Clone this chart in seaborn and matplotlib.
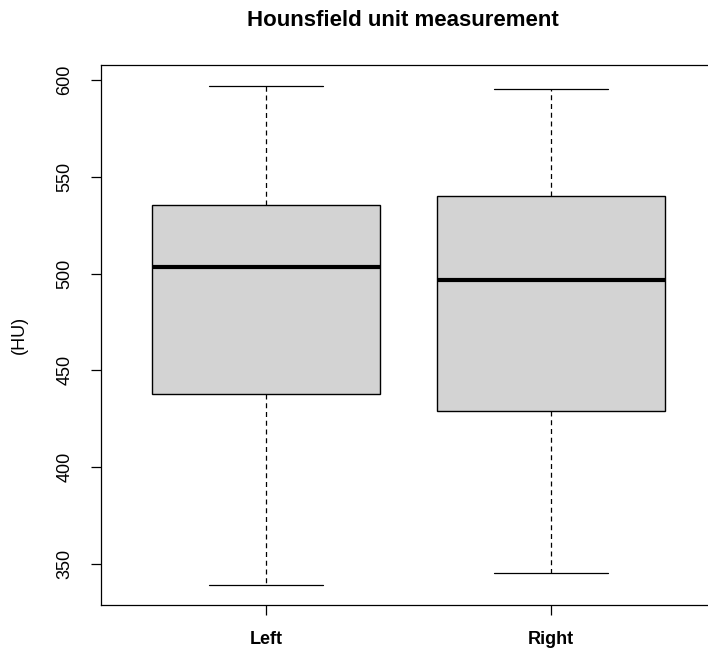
import numpy as np
import pandas as pd
import matplotlib
matplotlib.use("Agg")
import matplotlib.pyplot as plt
import seaborn as sns

# Data (five-number summaries)
sides = ["Left", "Right"]
left_vals = [339.3, 437.7, 503.3, 535.4, 597.1]
right_vals = [345.5, 428.9, 496.5, 540.2, 595.4]
y_ticks = [350, 400, 450, 500, 550, 600]
title = "Hounsfield unit measurement"
ylabel = "(HU)"

sns.set_theme(style="white")
plt.rcParams["font.family"] = ["Liberation Sans", "DejaVu Sans"]
plt.rcParams["text.color"] = "black"
plt.rcParams["xtick.color"] = "black"
plt.rcParams["ytick.color"] = "black"
plt.rcParams["axes.labelcolor"] = "black"

df = pd.DataFrame({
    "side": np.repeat(sides, 5),
    "hu": np.concatenate([left_vals, right_vals]),
})

fig = plt.figure(figsize=(7.08, 6.55), dpi=100)
fig.patch.set_facecolor("white")
ax = fig.add_axes([100.5 / 708, 1 - 605 / 655, (716 - 100.5) / 708, (605 - 65) / 655])

sns.boxplot(
    data=df, x="side", y="hu", order=sides, whis=(0, 100), width=0.8,
    color="#D3D3D3", saturation=1, linecolor="black", linewidth=1.0,
    medianprops=dict(linewidth=3.0, color="black"),
    whiskerprops=dict(linestyle=(0, (4, 3)), linewidth=0.9),
    capprops=dict(linewidth=0.9),
    ax=ax,
)

ax.set_xlim(-0.58, 1.58)
ax.set_ylim(328.8, 607.7)
ax.set_yticks(y_ticks)
ax.set_yticklabels([str(t) for t in y_ticks], rotation=90, va="center", fontsize=13, color="black")
ax.set_xticks([0, 1])
ax.set_xticklabels(sides, fontsize=13, fontweight="bold", color="black")
ax.tick_params(axis="both", which="both", direction="out", length=7, width=0.9,
               color="black", labelcolor="black")
ax.tick_params(axis="y", pad=12.5, left=True)
ax.tick_params(axis="x", pad=12, bottom=True)
ax.set_xlabel("")
ax.set_ylabel("")
for name, s in ax.spines.items():
    s.set_visible(True)
    s.set_color("black")
    s.set_linewidth(0.9)
ax.spines["right"].set_visible(False)

fig.text(19 / 708, 1 - 335 / 655, ylabel, rotation=90, ha="center", va="center",
         fontsize=13, color="black")
fig.text(403 / 708, 1 - 20 / 655, title, ha="center", va="center", fontsize=16,
         fontweight="bold", color="black")

fig.savefig("out.png", dpi=100)
